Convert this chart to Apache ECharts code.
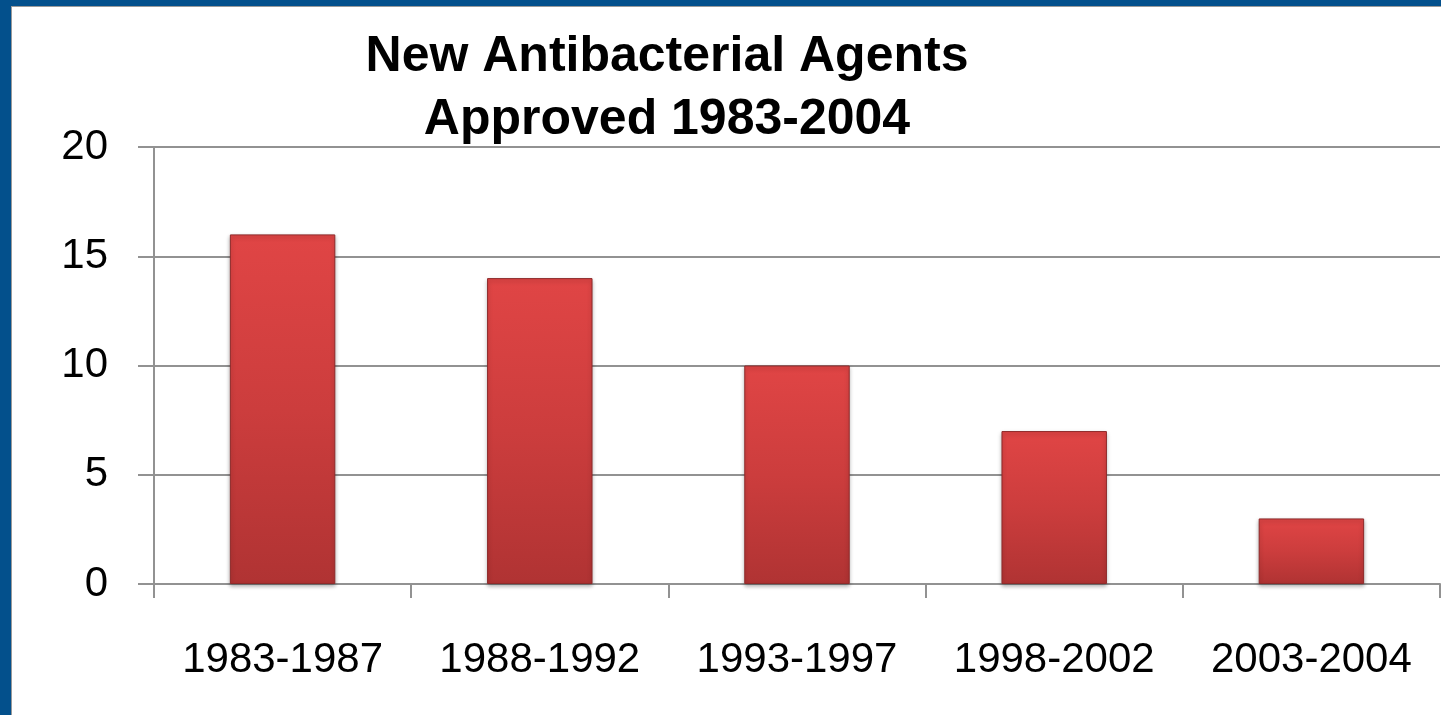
<!DOCTYPE html>
<html>
<head>
<meta charset="utf-8">
<script src="https://cdn.jsdelivr.net/npm/echarts@6/dist/echarts.min.js"></script>
<style>
html,body{margin:0;padding:0;width:1441px;height:715px;overflow:hidden;background:#03508c;}
#frame{position:absolute;left:11px;top:6px;right:0;bottom:0;background:#ffffff;border-left:1px solid #9a9a9a;border-top:1px solid #9a9a9a;}
#chart{position:absolute;left:0;top:0;width:1441px;height:715px;}
</style>
</head>
<body>
<div id="frame"></div>
<div id="chart"></div>
<script>
const titleText = 'New Antibacterial Agents\nApproved 1983-2004';
const categories = ['1983-1987', '1988-1992', '1993-1997', '1998-2002', '2003-2004'];
const agentsApproved = [16, 14, 10, 7, 3];
const yTicks = {min: 0, max: 20, interval: 5};

const chart = echarts.init(document.getElementById('chart'), null, {renderer: 'canvas'});
const axisGrey = '#929292';
chart.setOption({
  backgroundColor: 'transparent',
  animation: false,
  title: {
    text: titleText,
    left: 667,
    top: 26,
    padding: 0,
    textAlign: 'center',
    textStyle: {
      fontFamily: 'Liberation Sans',
      fontWeight: 'bold',
      fontSize: 50,
      lineHeight: 63,
      color: '#000000'
    }
  },
  grid: {left: 154, top: 147, right: 1, bottom: 131, containLabel: false},
  xAxis: {
    type: 'category',
    data: categories,
    axisLine: {show: true, lineStyle: {color: axisGrey, width: 2}},
    axisTick: {show: true, interval: 0, length: 14, alignWithLabel: false, lineStyle: {color: axisGrey, width: 2}},
    axisLabel: {
      interval: 0,
      margin: 55,
      fontFamily: 'Liberation Sans',
      fontSize: 42,
      color: '#000000'
    },
    splitLine: {show: false}
  },
  yAxis: {
    type: 'value',
    min: yTicks.min,
    max: yTicks.max,
    interval: yTicks.interval,
    axisLine: {show: true, lineStyle: {color: axisGrey, width: 2}},
    axisTick: {show: true, length: 16, lineStyle: {color: axisGrey, width: 2}},
    axisLabel: {
      margin: 46,
      fontFamily: 'Liberation Sans',
      fontSize: 42,
      color: '#000000'
    },
    splitLine: {show: true, lineStyle: {color: axisGrey, width: 2}}
  },
  series: [{
    type: 'bar',
    data: agentsApproved,
    barWidth: '41%',
    itemStyle: {
      color: new echarts.graphic.LinearGradient(0, 0, 0, 1, [
        {offset: 0, color: '#e04545'},
        {offset: 0.5, color: '#cc3d3d'},
        {offset: 1, color: '#b03333'}
      ]),
      borderColor: '#8e2a2a',
      borderWidth: 1,
      shadowColor: 'rgba(0,0,0,0.3)',
      shadowBlur: 4,
      shadowOffsetY: 2
    }
  }]
});
</script>
</body>
</html>
